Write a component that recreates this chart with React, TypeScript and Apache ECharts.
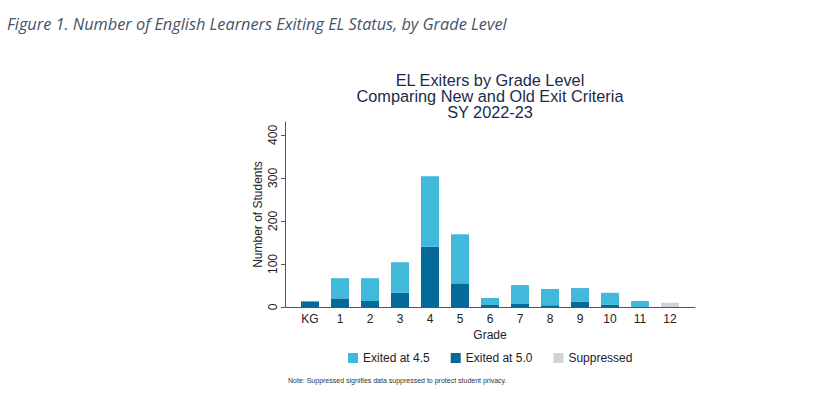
import React, { useEffect, useRef } from "react";
import * as echarts from "echarts";

const grades = ["KG", "1", "2", "3", "4", "5", "6", "7", "8", "9", "10", "11", "12"];
const exited50 = [13, 20, 14, 33, 140, 55, 6, 7, 4, 12, 5, 0, 0];
const exited45 = [0, 47, 53, 71, 164, 114, 15, 44, 38, 32, 28, 14, 0];
const suppressed = [0, 0, 0, 0, 0, 0, 0, 0, 0, 0, 0, 0, 10];
const yTicks = [0, 100, 200, 300, 400];

const FONT = "'Liberation Sans', Arial, sans-serif";
const Y_MAX = 430;

export default function App() {
  const ref = useRef<HTMLDivElement>(null);
  useEffect(() => {
    if (!ref.current) return;
    const chart = echarts.init(ref.current, null, { renderer: "svg" });
    chart.setOption({
      animation: false,
      backgroundColor: "#ffffff",
      textStyle: { fontFamily: FONT },
      title: [
        {
          text: "Figure 1. Number of English Learners Exiting EL Status, by Grade Level",
          left: 7,
          top: 16,
          padding: 0,
          textStyle: {
            fontFamily: "'Open Sans', Lato, sans-serif",
            fontStyle: "italic",
            fontWeight: "normal",
            fontSize: 16.3,
            color: "#44546a",
          },
        },
        {
          text: "EL Exiters by Grade Level\nComparing New and Old Exit Criteria\nSY 2022-23",
          left: 490,
          top: 72,
          padding: 0,
          textAlign: "center",
          textStyle: {
            fontFamily: FONT,
            fontWeight: "normal",
            fontSize: 16.3,
            lineHeight: 16,
            color: "#1a2b4c",
          },
        },
        {
          text: "Note: Suppressed signifies data suppressed to protect student privacy.",
          left: 288,
          top: 377,
          padding: 0,
          textStyle: {
            fontFamily: FONT,
            fontWeight: "normal",
            fontSize: 7,
            color: "#333333",
          },
        },
      ],
      legend: {
        data: ["Exited at 4.5", "Exited at 5.0", "Suppressed"],
        left: 348,
        top: 352,
        padding: 0,
        icon: "rect",
        itemWidth: 10,
        itemHeight: 10,
        itemGap: 21,
        textStyle: { fontFamily: FONT, fontSize: 12, color: "#222222" },
      },
      grid: [
        { left: 295, right: 144, top: 122, bottom: 88 },
        { left: 285, right: 134, top: 122, bottom: 88 },
      ],
      xAxis: [
        {
          type: "category",
          gridIndex: 0,
          data: grades,
          boundaryGap: true,
          name: "Grade",
          nameLocation: "middle",
          nameGap: 22,
          nameTextStyle: { fontFamily: FONT, fontSize: 12, color: "#222222" },
          axisLine: { show: false },
          axisTick: { show: false },
          splitLine: { show: false },
          axisLabel: {
            fontFamily: FONT,
            fontSize: 12,
            color: "#222222",
            margin: 6,
            interval: 0,
          },
        },
        {
          type: "value",
          gridIndex: 1,
          min: 0,
          max: 1,
          axisLine: { show: true, lineStyle: { color: "#555555", width: 1 } },
          axisTick: { show: false },
          axisLabel: { show: false },
          splitLine: { show: false },
        },
      ],
      yAxis: [
        {
          type: "value",
          gridIndex: 0,
          min: 0,
          max: Y_MAX,
          show: false,
          splitLine: { show: false },
        },
        {
          type: "value",
          gridIndex: 1,
          min: 0,
          max: Y_MAX,
          name: "Number of Students",
          nameLocation: "middle",
          nameGap: 21,
          nameTextStyle: { fontFamily: FONT, fontSize: 12, color: "#222222" },
          axisLine: { show: true, lineStyle: { color: "#555555", width: 1 } },
          axisTick: {
            show: true,
            customValues: yTicks,
            length: 4,
            lineStyle: { color: "#555555" },
          },
          splitLine: { show: false },
          axisLabel: {
            customValues: yTicks,
            rotate: 90,
            fontFamily: FONT,
            fontSize: 12,
            color: "#222222",
            margin: 6,
          },
        },
      ],
      series: [
        {
          name: "Exited at 5.0",
          type: "bar",
          stack: "total",
          xAxisIndex: 0,
          yAxisIndex: 0,
          barWidth: 18,
          itemStyle: { color: "#056a9a" },
          data: exited50,
        },
        {
          name: "Exited at 4.5",
          type: "bar",
          stack: "total",
          xAxisIndex: 0,
          yAxisIndex: 0,
          barWidth: 18,
          itemStyle: { color: "#41b9da" },
          data: exited45,
        },
        {
          name: "Suppressed",
          type: "bar",
          stack: "total",
          xAxisIndex: 0,
          yAxisIndex: 0,
          barWidth: 18,
          itemStyle: { color: "#d3d3d3" },
          data: suppressed,
        },
      ],
    });
    return () => chart.dispose();
  }, []);
  return (
    <div
      ref={ref}
      style={{ position: "absolute", left: 0, top: 0, width: 829, height: 395 }}
    />
  );
}
